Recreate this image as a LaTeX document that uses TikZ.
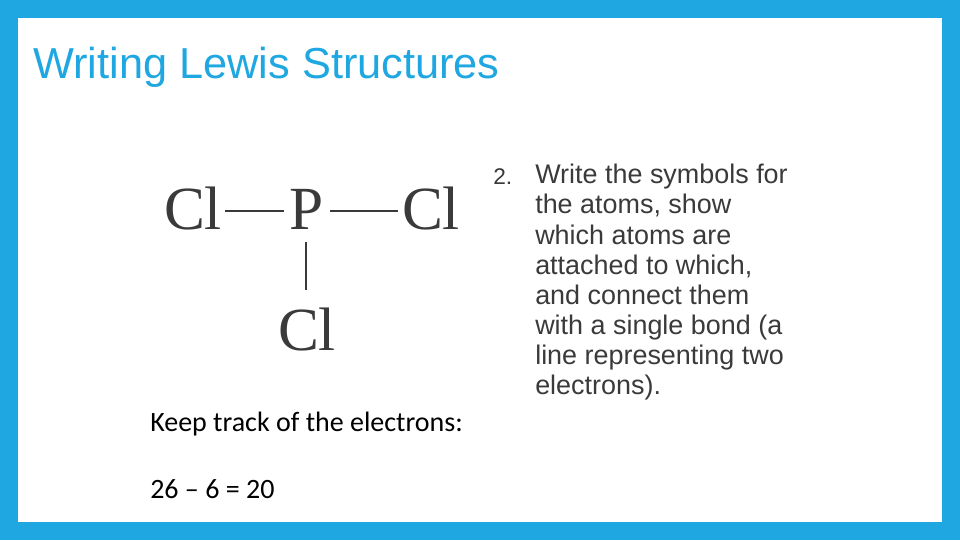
\documentclass[tikz,border=0pt]{standalone}
\usepackage{fontspec}
\setmainfont{Liberation Sans}
\newfontfamily\serifm{Liberation Serif}
\newfontfamily\calib{Carlito}
\definecolor{frame}{HTML}{1EA7E1}
\definecolor{txt}{HTML}{3A3A3A}
\begin{document}
\begin{tikzpicture}[x=0.75pt,y=-0.75pt,
  atom/.style={font=\serifm\fontsize{46}{46}\selectfont,text=txt,inner sep=0pt},
  bond/.style={draw=txt,line width=1.4pt}]
\useasboundingbox (0,0) rectangle (960,540);
\fill[frame] (0,0) rectangle (960,540);
\fill[white] (18,18) rectangle (942,522);
\node[anchor=base west,text=frame,font=\fontsize{32.5}{32.5}\selectfont,inner sep=0pt] (title) at (33,78) {Writing Lewis Structures};
\node[atom,anchor=base] (cl1) at (193,229) {Cl};
\node[atom,anchor=base] (p) at (307,229) {P};
\node[atom,anchor=base] (cl2) at (431,229) {Cl};
\node[atom,anchor=base] (cl3) at (307,350) {Cl};
\coordinate (b1) at (225,211); \coordinate (b2) at (284,211);
\coordinate (b3) at (330,211); \coordinate (b4) at (398,211);
\coordinate (b5) at (306,242); \coordinate (b6) at (306,290);
\draw[bond] (b1) -- (b2); \draw[bond] (b3) -- (b4); \draw[bond] (b5) -- (b6);
\node[anchor=base west,text=txt,font=\fontsize{17}{17}\selectfont,inner sep=0pt] (num) at (493,184) {2.};
\node[anchor=north west,text=txt,align=left,font=\fontsize{20.2}{22.6}\selectfont,inner sep=0pt] (desc) at (535,164) {Write the symbols for\\the atoms, show\\which atoms are\\attached to which,\\and connect them\\with a single bond (a\\line representing two\\electrons).};
\node[anchor=base west,text=black,font=\calib\fontsize{21}{21}\selectfont,inner sep=0pt] (k) at (150,431) {Keep track of the electrons:};
\node[anchor=base west,text=black,font=\calib\fontsize{21}{21}\selectfont,inner sep=0pt] (e) at (150,498) {26 – 6 = 20};
\end{tikzpicture}
\end{document}
